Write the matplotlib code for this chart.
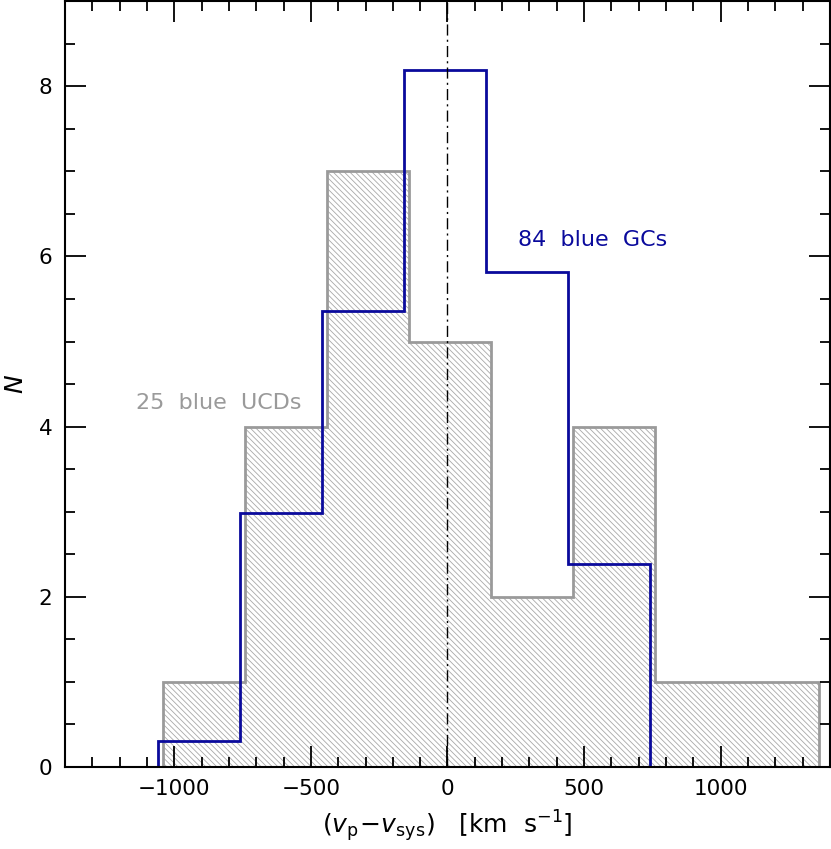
import matplotlib
matplotlib.use('Agg')
import matplotlib.pyplot as plt
import numpy as np

plt.rcParams['font.family'] = ['DejaVu Sans']
plt.rcParams['mathtext.fontset'] = 'dejavusans'
plt.rcParams['hatch.linewidth'] = 0.6

# 25 blue UCDs (gray histogram)
ucd_edges = [-1040, -740, -440, -140, 160, 460, 760, 1060, 1360]
ucd_counts = [1, 4, 7, 5, 2, 4, 1, 1]

# 84 blue GCs, scaled (blue histogram)
gc_edges = [-1400, -1060, -760, -460, -160, 140, 440, 740, 1400]
gc_counts = [0, 0.31, 2.98, 5.36, 8.19, 5.82, 2.38, 0]

gray = '#9a9a9a'
blue = '#0a0a9c'

fig = plt.figure(figsize=(8.31, 8.49), dpi=100)
ax = fig.add_axes([0.0782, 0.0966, 0.9206, 0.902])

w = np.diff(ucd_edges)
ax.bar(ucd_edges[:-1], ucd_counts, width=w, align='edge', color='none',
       edgecolor='#a8a8a8', linewidth=0, hatch='\\\\\\\\\\\\')
ax.stairs(ucd_counts, ucd_edges, color=gray, linewidth=2.0)
ax.axvline(0, color='k', lw=1.0, dashes=(8, 3, 1.5, 3))
ax.stairs(gc_counts, gc_edges, color=blue, linewidth=2.0)

ax.text(-836, 4.28, '25  blue  UCDs', color=gray, fontsize=16, ha='center', va='center')
ax.text(533, 6.19, '84  blue  GCs', color=blue, fontsize=16, ha='center', va='center')

ax.set_xlim(-1400, 1400)
ax.set_ylim(0, 9)
ax.set_xticks([-1000, -500, 0, 500, 1000])
ax.set_xticklabels(['\u22121000', '\u2212500', '0', '500', '1000'])
ax.set_xticks(np.arange(-1400, 1401, 100), minor=True)
ax.set_yticks([0, 2, 4, 6, 8])
ax.set_yticks(np.arange(0, 9.01, 0.5), minor=True)
ax.tick_params(which='both', direction='in', top=True, right=True, width=1.3,
               labelsize=15.5, colors='k')
ax.tick_params(which='major', length=15, pad=9)
ax.tick_params(which='minor', length=7)
for s in ax.spines.values():
    s.set_linewidth(1.5)

ax.set_xlabel(r'$(v_{\rm p}\!-\!v_{\rm sys})$   [km  s$^{-1}$]', fontsize=18, labelpad=6)
ax.set_ylabel(r'$N$', fontsize=18, labelpad=8)

fig.savefig('out.png', dpi=100)
